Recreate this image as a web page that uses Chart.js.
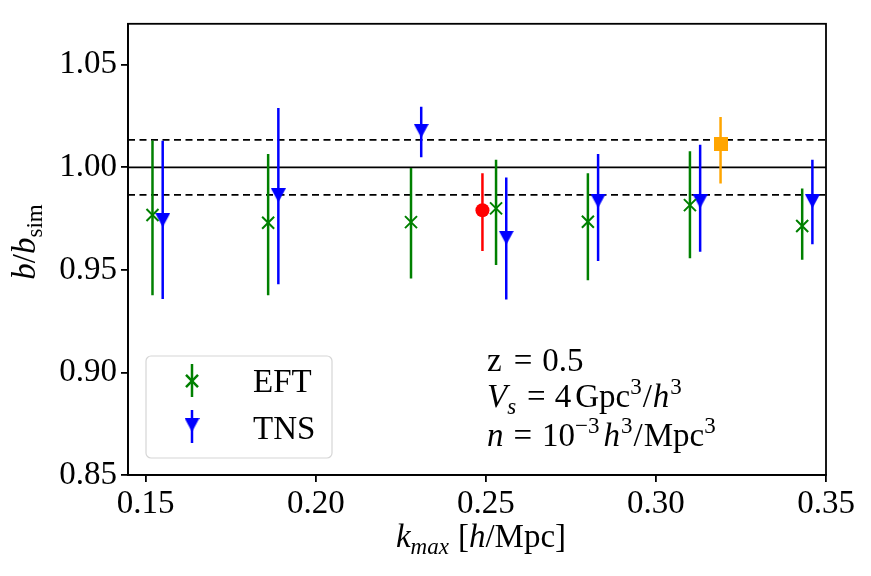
<!DOCTYPE html>
<html>
<head>
<meta charset="utf-8">
<script src="https://cdn.jsdelivr.net/npm/chart.js@4.4.1/dist/chart.umd.min.js"></script>
<style>
  html, body { margin: 0; padding: 0; background: #fff; }
  canvas { display: block; }
</style>
</head>
<body>
<canvas id="biasChart" width="871" height="576"></canvas>
<script>
// bias ratio b/b_sim vs k_max
const eftK  = [0.152, 0.186, 0.228, 0.253, 0.280, 0.310, 0.343];
const eftB  = [0.9768, 0.9730, 0.9733, 0.9800, 0.9735, 0.9816, 0.9714];
const eftLo = [0.9377, 0.9377, 0.9458, 0.9524, 0.9450, 0.9557, 0.9550];
const eftHi = [1.0131, 1.0065, 0.9997, 1.0037, 0.9971, 1.0078, 0.9897];

const tnsK  = [0.155, 0.189, 0.231, 0.256, 0.283, 0.313, 0.346];
const tnsB  = [0.9743, 0.9864, 1.0178, 0.9657, 0.9836, 0.9835, 0.9835];
const tnsLo = [0.9358, 0.9430, 1.0049, 0.9356, 0.9544, 0.9589, 0.9625];
const tnsHi = [1.0130, 1.0290, 1.0296, 0.9951, 1.0065, 1.0110, 1.0037];

const redK  = [0.249];
const redB  = [0.9791];
const redLo = [0.9592];
const redHi = [0.9971];

const orangeK  = [0.319];
const orangeB  = [1.0113];
const orangeLo = [0.9921];
const orangeHi = [1.0246];

const refLevel  = [1.0];
const bandLevel = [0.9866, 1.0134];

const xRange = [0.1448, 0.35];
const yRange = [0.85, 1.07];
const xTicks = [0.15, 0.20, 0.25, 0.30, 0.35];
const yTicks = [0.85, 0.90, 0.95, 1.00, 1.05];

const GREEN = '#008000', BLUE = '#0000ff', RED = '#ff0000', ORANGE = '#ffa500';
const SERIF = '"Liberation Serif", "DejaVu Serif", serif';

// matplotlib-like triangle_down, centred on its bounding box
function makeTriangle(w, h, color) {
    const c = document.createElement('canvas');
    c.width = w; c.height = h;
    const g = c.getContext('2d');
    g.fillStyle = color;
    g.beginPath();
    g.moveTo(0, 0);
    g.lineTo(w, 0);
    g.lineTo(w / 2, h);
    g.closePath();
    g.fill();
    return c;
}
function makeSquare(s, color) {
    const c = document.createElement('canvas');
    c.width = s; c.height = s;
    const g = c.getContext('2d');
    g.fillStyle = color;
    g.fillRect(0, 0, s, s);
    return c;
}
const triDown = makeTriangle(15, 14, BLUE);
const orangeSq = makeSquare(14, ORANGE);

function pts(ks, vs) {
    return ks.map((k, i) => ({ x: k, y: vs[i] }));
}
function bars(ks, lo, hi) {
    return ks.flatMap((k, i) => [{ x: k, y: lo[i] }, { x: k, y: hi[i] }, { x: k, y: null }]);
}
function hline(v) {
    return [{ x: xRange[0], y: v }, { x: xRange[1], y: v }];
}

function errDataset(data, color) {
    return {
        type: 'line',
        data: data,
        borderColor: color,
        borderWidth: 2.5,
        pointRadius: 0,
        spanGaps: false,
        fill: false,
        order: 5
    };
}

// draw a run of text pieces: [text, font, dy, gapBefore]
function drawRich(ctx, segs, x, y, align) {
    let total = 0;
    segs.forEach(s => { ctx.font = s[1]; total += (s[3] || 0) + ctx.measureText(s[0]).width; });
    let cx = align === 'center' ? x - total / 2 : x;
    segs.forEach(s => {
        ctx.font = s[1];
        cx += s[3] || 0;
        ctx.fillText(s[0], cx, y + (s[2] || 0));
        cx += ctx.measureText(s[0]).width;
    });
}

const R  = '33px ' + SERIF;
const I  = 'italic 33px ' + SERIF;
const Rs = '23px ' + SERIF;
const Is = 'italic 23px ' + SERIF;

const decorPlugin = {
    id: 'decor',
    afterDraw(chart) {
        const ctx = chart.ctx;
        const a = chart.chartArea;
        ctx.save();
        // frame
        ctx.strokeStyle = '#000';
        ctx.lineWidth = 1.8;
        ctx.strokeRect(a.left, a.top, a.right - a.left, a.bottom - a.top);

        ctx.fillStyle = '#000';
        ctx.textBaseline = 'alphabetic';
        ctx.textAlign = 'left';

        // annotation
        drawRich(ctx, [['z', R], ['=', R, 0, 12], ['0.5', R, 0, 10]], 487, 371);
        drawRich(ctx, [['V', I], ['s', Is, 7], ['=', R, 0, 11], ['4', R, 0, 9], ['Gpc', R, 0, 4],
                       ['3', Rs, -13], ['/', R, 0, 1], ['h', I, 0, 1], ['3', Rs, -13, 1]], 487, 407);
        drawRich(ctx, [['n', I], ['=', R, 0, 10], ['10', R, 0, 10], ['\u22123', Rs, -13],
                       ['h', I, 0, 4], ['3', Rs, -13, 1], ['/', R, 0, 1], ['Mpc', R, 0, 1], ['3', Rs, -13]], 487, 446);

        // axis titles
        drawRich(ctx, [['k', I], ['max', Is, 7], ['[', R, 0, 9], ['h', I], ['/Mpc]', R]], (a.left + a.right) / 2 + 4, 547, 'center');
        ctx.save();
        ctx.translate(35, 242);
        ctx.rotate(-Math.PI / 2);
        drawRich(ctx, [['b', I], ['/', R], ['b', I], ['sim', Rs, 7]], 0, 0, 'center');
        ctx.restore();

        // legend
        ctx.beginPath();
        ctx.roundRect(146, 356, 186, 102, 5);
        ctx.fillStyle = 'rgba(255,255,255,0.8)';
        ctx.fill();
        ctx.strokeStyle = '#d6d6d6';
        ctx.lineWidth = 1.2;
        ctx.stroke();

        ctx.lineWidth = 2.5;
        ctx.strokeStyle = GREEN;
        ctx.beginPath(); ctx.moveTo(192, 364); ctx.lineTo(192, 397); ctx.stroke();
        Chart.helpers.drawPoint(ctx, { pointStyle: 'crossRot', radius: 8.5, borderWidth: 2 }, 192, 381);
        ctx.strokeStyle = BLUE;
        ctx.beginPath(); ctx.moveTo(192, 410); ctx.lineTo(192, 443); ctx.stroke();
        ctx.drawImage(triDown, 192 - 7.5, 425 - 7);

        ctx.fillStyle = '#000';
        drawRich(ctx, [['EFT', R]], 253, 392);
        drawRich(ctx, [['TNS', R]], 253, 439);
        ctx.restore();
    }
};

new Chart(document.getElementById('biasChart'), {
    type: 'scatter',
    data: {
        datasets: [
            {
                type: 'line', data: hline(refLevel[0]),
                borderColor: '#000', borderWidth: 1.8, pointRadius: 0, order: 8
            },
            {
                type: 'line', data: hline(bandLevel[0]),
                borderColor: '#000', borderWidth: 1.8, borderDash: [7, 4.5], pointRadius: 0, order: 8
            },
            {
                type: 'line', data: hline(bandLevel[1]),
                borderColor: '#000', borderWidth: 1.8, borderDash: [7, 4.5], pointRadius: 0, order: 8
            },
            errDataset(bars(eftK, eftLo, eftHi), GREEN),
            errDataset(bars(tnsK, tnsLo, tnsHi), BLUE),
            errDataset(bars(redK, redLo, redHi), RED),
            errDataset(bars(orangeK, orangeLo, orangeHi), ORANGE),
            {
                label: 'EFT', data: pts(eftK, eftB),
                pointStyle: 'crossRot', pointRadius: 8.5, borderWidth: 2,
                borderColor: GREEN, backgroundColor: GREEN, order: 1
            },
            {
                label: 'TNS', data: pts(tnsK, tnsB),
                pointStyle: triDown, order: 1
            },
            {
                data: pts(redK, redB),
                pointStyle: 'circle', pointRadius: 7, borderWidth: 0,
                backgroundColor: RED, borderColor: RED, order: 1
            },
            {
                data: pts(orangeK, orangeB),
                pointStyle: orangeSq, order: 1
            }
        ]
    },
    options: {
        responsive: false,
        animation: false,
        devicePixelRatio: 1,
        layout: { padding: { left: 0, top: 21, right: 45, bottom: 0 } },
        plugins: {
            legend: { display: false },
            tooltip: { enabled: false }
        },
        scales: {
            x: {
                type: 'linear',
                min: xRange[0],
                max: xRange[1],
                afterBuildTicks(scale) { scale.ticks = xTicks.map(v => ({ value: v })); },
                afterFit(scale) { scale.height = 101; },
                grid: { drawOnChartArea: false, drawTicks: true, tickLength: 7, color: '#000', lineWidth: 1.8 },
                border: { color: '#000', width: 1.8 },
                ticks: {
                    color: '#000',
                    font: { family: SERIF, size: 33 },
                    padding: 3,
                    maxRotation: 0,
                    callback: v => v.toFixed(2)
                }
            },
            y: {
                type: 'linear',
                min: yRange[0],
                max: yRange[1],
                afterBuildTicks(scale) { scale.ticks = yTicks.map(v => ({ value: v })); },
                afterFit(scale) { scale.width = 128; },
                grid: { drawOnChartArea: false, drawTicks: true, tickLength: 7, color: '#000', lineWidth: 1.8 },
                border: { color: '#000', width: 1.8 },
                ticks: {
                    color: '#000',
                    font: { family: SERIF, size: 33 },
                    padding: 4,
                    callback: v => v.toFixed(2)
                }
            }
        }
    },
    plugins: [decorPlugin]
});
</script>
</body>
</html>
